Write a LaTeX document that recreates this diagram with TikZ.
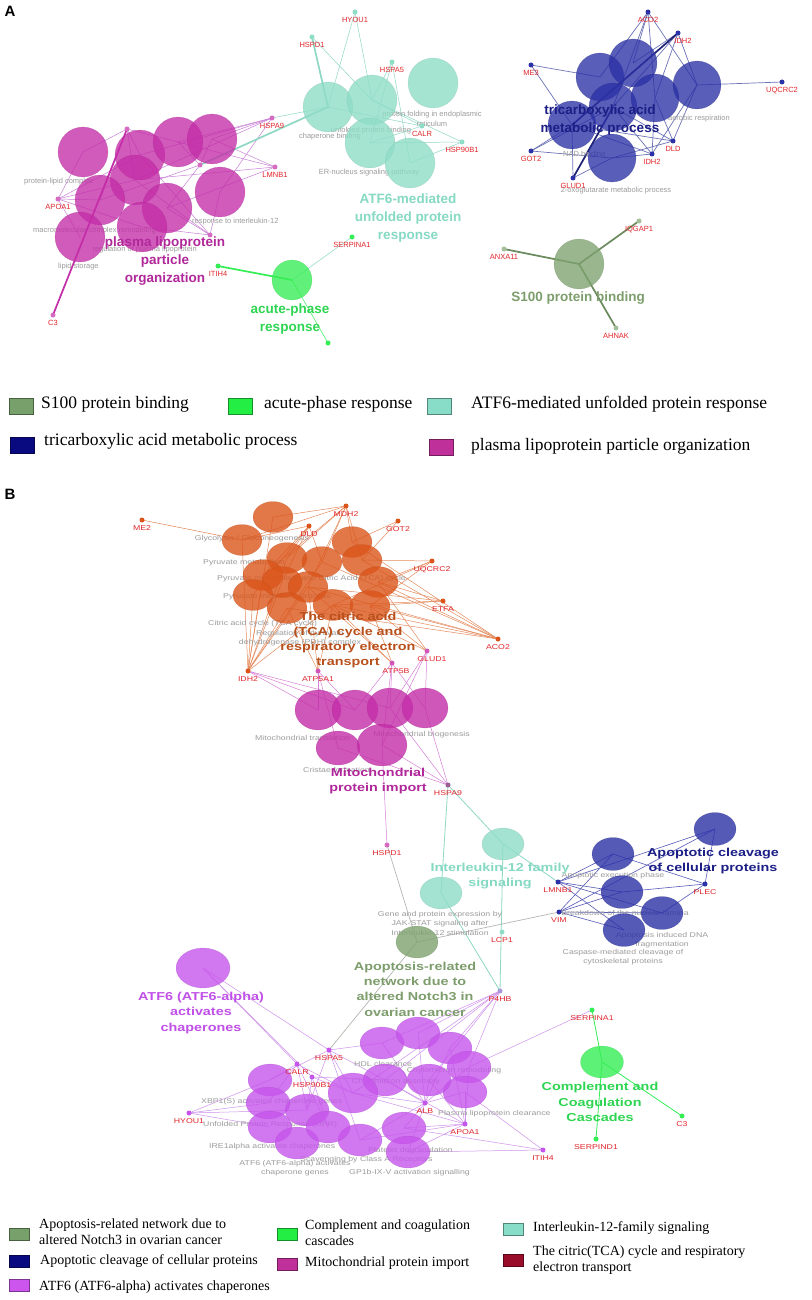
\documentclass[tikz,border=0pt]{standalone}
\usepackage{fontspec}
\setmainfont{Liberation Sans}
\newfontfamily\legfont{Liberation Serif}
\newfontfamily\widesans[FakeStretch=1.25]{Liberation Sans}
\usetikzlibrary{shapes.geometric,positioning}
\pgfdeclarelayer{back}
\pgfdeclarelayer{edges}
\pgfsetlayers{back,edges,main}

\definecolor{lipo}{HTML}{C42DA8}
\definecolor{atf}{HTML}{8EDDC6}
\definecolor{acute}{HTML}{35EE55}
\definecolor{tcaA}{HTML}{2B31A6}
\definecolor{s100}{HTML}{7EA26F}
\definecolor{tcaB}{HTML}{DB551A}
\definecolor{violet}{HTML}{C655EC}
\definecolor{genered}{HTML}{E0262B}
\definecolor{greytext}{HTML}{9C9C9C}
\definecolor{lipoLab}{HTML}{B0289A}
\definecolor{atfLab}{HTML}{86D9C2}
\definecolor{acuteLab}{HTML}{2ED552}
\definecolor{navyLab}{HTML}{1B1F86}
\definecolor{oliveLab}{HTML}{7D9D6C}
\definecolor{tcaLab}{HTML}{B8501C}
\definecolor{violetLab}{HTML}{C050E8}
\definecolor{eLipo}{HTML}{C880D6}
\definecolor{eAtf}{HTML}{8ED8C4}
\definecolor{eNavy}{HTML}{6C72B6}
\definecolor{eOrange}{HTML}{E58A5C}
\definecolor{eMito}{HTML}{D67FD6}
\definecolor{eViolet}{HTML}{CF92EC}
\definecolor{eGrey}{HTML}{B3B8B0}
\definecolor{legS100}{HTML}{77A06A}
\definecolor{legAcute}{HTML}{22EE44}
\definecolor{legAtf}{HTML}{88DDC8}
\definecolor{legNavy}{HTML}{0A0A80}
\definecolor{legLipo}{HTML}{C0309A}
\definecolor{legViolet}{HTML}{CC55EE}
\definecolor{legRed}{HTML}{990C2A}

\tikzset{
  bubble/.style={circle,inner sep=0pt,minimum size=#1,fill opacity=0.78,draw opacity=0.3,line width=0.4pt},
  oval/.style 2 args={ellipse,inner sep=0pt,minimum width=#1,minimum height=#2,fill opacity=0.8,draw opacity=0.3,line width=0.4pt},
  lipoA/.style={bubble=50pt,fill=lipo,draw=lipo!80!black},
  atfA/.style={bubble=50pt,fill=atf,draw=atf!80!black},
  acuteA/.style={bubble=40pt,fill=acute,draw=acute!80!black},
  tcaAb/.style={bubble=48pt,fill=tcaA,draw=tcaA!70!black},
  s100A/.style={bubble=50pt,fill=s100,draw=s100!80!black},
  tcaBb/.style={oval={40pt}{31pt},fill=tcaB,draw=tcaB!80!black},
  mitoB/.style={oval={46pt}{40pt},fill=lipo,draw=lipo!80!black},
  ilB/.style={oval={42pt}{32pt},fill=atf,draw=atf!80!black},
  apB/.style={oval={42pt}{32pt},fill=s100,draw=s100!80!black},
  cleavB/.style={oval={42pt}{33pt},fill=tcaA,draw=tcaA!70!black},
  chapB/.style={oval={44pt}{32pt},fill=violet,draw=violet!80!black},
  compB/.style={oval={43pt}{32pt},fill=acute,draw=acute!80!black},
  gene/.style={circle,inner sep=0pt,minimum size=5pt,fill=#1},
  glabA/.style={text=genered,font=\fontsize{7.5}{8}\selectfont,inner sep=0.5pt},
  glabB/.style={text=genered,font=\widesans\fontsize{7}{8}\selectfont,inner sep=0.5pt},
  termA/.style={text=greytext,font=\fontsize{7.5}{9.5}\selectfont,inner sep=0pt,align=center},
  termB/.style={text=greytext,font=\widesans\fontsize{7}{9.5}\selectfont,inner sep=0pt,align=center},
  clabA/.style={text=#1,font=\bfseries\fontsize{13.5}{18}\selectfont,align=center,inner sep=0pt},
  clabB/.style={text=#1,font=\widesans\bfseries\fontsize{11.5}{15.3}\selectfont,align=center,inner sep=0pt},
  link/.style={draw=#1,line width=0.5pt},
  thicklink/.style={draw=#1,line width=1.7pt},
  panel/.style={font=\bfseries\fontsize{15}{15}\selectfont,inner sep=0pt},
  swatchA/.style={fill=#1,draw=#1!60!black,line width=0.4pt,inner sep=0pt,minimum width=24pt,minimum height=16pt},
  swatchB/.style={fill=#1,draw=#1!60!black,line width=0.4pt,inner sep=0pt,minimum width=20pt,minimum height=12pt},
  legA/.style={font=\legfont\fontsize{17.5}{19}\selectfont,anchor=mid west,inner sep=0pt},
  legB/.style={font=\legfont\fontsize{14}{16}\selectfont,anchor=west,inner sep=0pt,align=left}
}

\begin{document}
\begin{tikzpicture}[x=1pt,y=-1pt]
\useasboundingbox (0,0) rectangle (811,1300);
\begin{pgfonlayer}{back}
\fill[white] (0,0) rectangle (811,1300);
\end{pgfonlayer}

\node[panel] (pA) at (10,11) {A};
\node[panel] (pB) at (10,494) {B};

\foreach \n/\x/\y in {1/83/152,2/140/155,3/178/142,4/212/139,5/135/180,6/100/200,7/167/208,8/142/227,9/220/192,10/80/237}
  \node[lipoA] (pa\n) at (\x,\y) {};
\foreach \n/\x/\y in {1/328/107,2/372/100,3/433/83,4/370/143,5/410/163}
  \node[atfA] (ta\n) at (\x,\y) {};
\node[acuteA] (acA) at (292,280) {};
\foreach \n/\x/\y in {1/600/77,2/633/63,3/613/107,4/655/98,5/697/85,6/572/125,7/612/158}
  \node[tcaAb] (nb\n) at (\x,\y) {};
\node[s100A] (sA) at (579,264) {};

\foreach \g/\x/\y/\c in {HYOU1/355/12/atf,HSPD1/312/37/atf,HSPA5/392/62/atf,CALR/422/126/atf,HSP90B1/462/142/atf,
    HSPA9/272/118/lipo!70,LMNB1/275/167/lipo!70,APOA1/58/199/lipo!70,C3/53/315/lipo!70,
    ITIH4/218/266/acute,SERPINA1/352/237/acute,
    ACO2/648/12/tcaA,ME3/531/65/tcaA,UQCRC2/782/82/tcaA,GOT2/531/151/tcaA,DLD/673/141/tcaA,IDH2/652/154/tcaA,GLUD1/573/178/tcaA,
    IQGAP1/639/221/s100!70,ANXA11/504/249/s100!70,AHNAK/616/328/s100!70}
  {\node[gene=\c] (a\g) at (\x,\y) {};
   \node[glabA,below=2pt of a\g] (la\g) {\g};}
\node[gene=tcaA] (aIDH2t) at (678,33) {};
\node[glabA,below=2pt of aIDH2t,xshift=5pt] (laIDH2t) {IDH2};
\node[gene=lipo!70] (aX1) at (127,129) {};
\node[gene=lipo!70] (aX2) at (210,235) {};
\node[gene=lipo!70] (aX3) at (200,165) {};
\node[gene=acute] (aX4) at (328,343) {};

\begin{pgfonlayer}{edges}
\foreach \s/\t in {aX1/pa1,aX1/pa2,aX1/pa3,aX1/pa5,aX1/pa6,aAPOA1/pa1,aAPOA1/pa2,aAPOA1/pa5,aAPOA1/pa6,aAPOA1/pa10,aAPOA1/pa8,
    aHSPA9/pa2,aHSPA9/pa3,aHSPA9/pa4,aHSPA9/pa5,aHSPA9/pa9,aLMNB1/pa3,aLMNB1/pa4,aLMNB1/pa5,aLMNB1/pa7,
    aX2/pa5,aX2/pa7,aX2/pa8,aX2/pa9,aX2/pa2,aX3/pa3,aX3/pa4,aX3/pa6,aX3/pa7}
  \draw[link=eLipo] (\s.center) -- (\t.center);
\draw[thicklink=lipo] (aC3.center) -- (aX1.center);
\foreach \s/\t in {aHSPA9/ta1,aHYOU1/ta1,aHYOU1/ta2,aHSPD1/ta2,aHSPA5/ta2,aHSPA5/ta4,aHSPA5/ta5,aCALR/ta4,aCALR/ta2,aCALR/ta1,
    aHSP90B1/ta2,aHSP90B1/ta4,aHSP90B1/ta5,aSERPINA1/acA}
  \draw[link=eAtf] (\s.center) -- (\t.center);
\draw[thicklink=eAtf] (aHSPD1.center) -- (ta1.center);
\draw[thicklink=eAtf] (aX3.center) -- (ta1.center);
\draw[thicklink=acute] (aITIH4.center) -- (acA.center);
\draw[link=acute] (aX4.center) -- (acA.center);
\foreach \s/\t in {aACO2/nb1,aACO2/nb2,aACO2/nb3,aACO2/nb4,aACO2/nb5,aIDH2t/nb2,aIDH2t/nb4,aIDH2t/nb5,aIDH2t/nb3,
    aME3/nb1,aME3/nb6,aUQCRC2/nb5,aGOT2/nb6,aGOT2/nb7,aGOT2/nb3,aDLD/nb3,aDLD/nb4,aDLD/nb5,aDLD/nb6,aDLD/nb7,
    aIDH2/nb3,aIDH2/nb4,aIDH2/nb5,aIDH2/nb6,aIDH2/nb7,aGLUD1/nb7,aGLUD1/nb6}
  \draw[link=eNavy,line width=0.7pt] (\s.center) -- (\t.center);
\draw[thicklink=tcaA!70!black] (aIDH2t.center) -- (nb6.center);
\draw[thicklink=tcaA!70!black] (aGLUD1.center) -- (nb3.center);
\foreach \s in {aIQGAP1,aANXA11,aAHNAK}
  \draw[thicklink=s100!85!black] (\s.center) -- (sA.center);

\node[termA,anchor=west] (gA1) at (24,182) {protein-lipid complex};
\node[termA,anchor=west] (gA2) at (33,231) {macromolecular complex remodeling};
\node[termA,anchor=west] (gA3) at (58,267) {lipid storage};
\node[termA,anchor=west] (gA4) at (192,222) {response to interleukin-12};
\node[termA,anchor=east] (gA5) at (197,250) {regulation of plasma lipoprotein};
\node[termA] (gA6) at (432,119) {protein folding in endoplasmic\\reticulum};
\node[termA] (gA7) at (371,131) {unfolded protein binding};
\node[termA] (gA8) at (330,137) {chaperone binding};
\node[termA] (gA9) at (369,173) {ER-nucleus signaling pathway};
\node[termA,anchor=east] (gA10) at (730,119) {aerobic respiration};
\node[termA,anchor=west] (gA11) at (563,155) {NAD binding};
\node[termA] (gA12) at (616,191) {2-oxoglutarate metabolic process};
\end{pgfonlayer}

\node[clabA=lipoLab] (cA1) at (165,261) {plasma lipoprotein\\particle\\organization};
\node[clabA=atfLab] (cA2) at (408,218) {ATF6-mediated\\unfolded protein\\response};
\node[clabA=acuteLab] (cA3) at (290,319) {acute-phase\\response};
\node[clabA=navyLab] (cA4) at (600,120) {tricarboxylic acid\\metabolic process};
\node[clabA=oliveLab] (cA5) at (578,298) {S100 protein binding};

\node[swatchA=legS100] (kA1) at (21.5,406) {};
\node[legA] (tA1) at (41,406) {S100 protein binding};
\node[swatchA=legAcute] (kA2) at (240,406) {};
\node[legA] (tA2) at (264,406) {acute-phase response};
\node[swatchA=legAtf] (kA3) at (439,406) {};
\node[legA] (tA3) at (471,406) {ATF6-mediated unfolded protein response};
\node[swatchA=legNavy] (kA4) at (22,445) {};
\node[legA] (tA4) at (44,443) {tricarboxylic acid metabolic process};
\node[swatchA=legLipo] (kA5) at (441.5,447) {};
\node[legA] (tA5) at (471,448) {plasma lipoprotein particle organization};

\foreach \n/\x/\y in {1/273/517,2/242/540,3/352/542,4/287/558,5/322/562,6/362/560,7/263/575,8/282/582,9/308/587,10/378/582,11/253/595,12/287/608,13/333/605,14/370/606}
  \node[tcaBb] (oc\n) at (\x,\y) {};
\foreach \n/\x/\y in {1/318/710,2/355/710,3/390/708,4/425/708}
  \node[mitoB] (mp\n) at (\x,\y) {};
\node[mitoB,minimum width=44pt,minimum height=34pt] (mp5) at (338,748) {};
\node[mitoB,minimum width=50pt,minimum height=42pt] (mp6) at (382,745) {};
\node[ilB] (il1) at (503,844) {};
\node[ilB] (il2) at (441,893) {};
\node[apB] (ap) at (417,942) {};
\foreach \n/\x/\y in {1/613/854,2/715/829,3/622/892,4/662/913,5/624/930}
  \node[cleavB] (nc\n) at (\x,\y) {};
\node[chapB,minimum width=54pt,minimum height=40pt] (atf) at (203,968) {};
\foreach \n/\x/\y in {1/382/1043,2/418/1033,3/450/1048,4/469/1067,5/465/1092,6/429/1080,7/385/1080,9/307/1110,10/270/1080,11/268/1103,12/270/1127,13/297/1143,14/360/1140,15/404/1128,16/408/1152,17/328/1127}
  \node[chapB] (vc\n) at (\x,\y) {};
\node[chapB,minimum width=50pt,minimum height=40pt] (vc8) at (353,1093) {};
\node[compB] (cc) at (602,1062) {};

\foreach \g/\x/\y/\c in {ME2/142/520/tcaB,MDH2/346/506/tcaB,DLD/309/526/tcaB,GOT2/398/521/tcaB,UQCRC2/432/561/tcaB,ETFA/443/601/tcaB,
    ACO2/498/639/tcaB,IDH2/248/671/tcaB,ATP5A1/318/671/lipo!80,
    HSPA9/448/785/lipo!40!gray,HSPD1/387/845/lipo!70,LMNB1/558/882/tcaA,VIM/559/912/tcaA,PLEC/705/884/tcaA,
    LCP1/502/932/atf,P4HB/500/991/atf!50!violet,
    HSPA5/329/1050/violet,CALR/297/1064/violet,HSP90B1/312/1077/violet,HYOU1/189/1113/violet,ALB/425/1103/violet,APOA1/465/1124/violet,ITIH4/543/1150/violet,
    SERPINA1/592/1010/acute,C3/682/1116/acute,SERPIND1/596/1139/acute}
  {\node[gene=\c] (b\g) at (\x,\y) {};
   \node[glabB,below=2pt of b\g] (lb\g) {\g};}
\node[gene=lipo!80] (bGLUD1) at (427,651) {};
\node[glabB,below=2pt of bGLUD1,xshift=5pt] (lbGLUD1) {GLUD1};
\node[gene=lipo!80] (bATP5B) at (392,663) {};
\node[glabB,below=2pt of bATP5B,xshift=4pt] (lbATP5B) {ATP5B};

\begin{pgfonlayer}{edges}
\foreach \s/\t in {bME2/oc2,bMDH2/oc1,bMDH2/oc2,bMDH2/oc3,bMDH2/oc4,bMDH2/oc5,bMDH2/oc6,bMDH2/oc7,bMDH2/oc9,
    bDLD/oc2,bDLD/oc4,bDLD/oc5,bDLD/oc7,bDLD/oc8,bDLD/oc11,bGOT2/oc3,bGOT2/oc6,
    bUQCRC2/oc6,bUQCRC2/oc10,bUQCRC2/oc13,bUQCRC2/oc14,bETFA/oc10,bETFA/oc13,bETFA/oc14,bETFA/oc9,
    bACO2/oc3,bACO2/oc5,bACO2/oc6,bACO2/oc9,bACO2/oc10,bACO2/oc13,bACO2/oc14,bACO2/oc12,
    bIDH2/oc1,bIDH2/oc2,bIDH2/oc4,bIDH2/oc7,bIDH2/oc8,bIDH2/oc9,bIDH2/oc11,bIDH2/oc12,bIDH2/oc13,bIDH2/oc5,
    bGLUD1/oc10,bGLUD1/oc14,bGLUD1/oc13,bATP5B/oc13,bATP5B/oc14,bATP5B/oc9,bATP5A1/oc9,bATP5A1/oc12,bATP5A1/oc13}
  \draw[link=eOrange] (\s.center) -- (\t.center);
\foreach \s/\t in {bIDH2/mp1,bIDH2/mp2,bIDH2/mp3,bATP5A1/mp1,bATP5A1/mp2,bATP5A1/mp5,bATP5B/mp2,bATP5B/mp3,bATP5B/mp4,bATP5B/mp6,
    bGLUD1/mp3,bGLUD1/mp4,bGLUD1/mp6,bHSPA9/mp3,bHSPA9/mp4,bHSPA9/mp5,bHSPA9/mp6,bHSPD1/mp6}
  \draw[link=eMito] (\s.center) -- (\t.center);
\foreach \s/\t in {bHSPA9/il1,bHSPA9/il2,bP4HB/il1,bP4HB/il2,bLMNB1/il1}
  \draw[link=eAtf,line width=0.8pt] (\s.center) -- (\t.center);
\foreach \s/\t in {bHSPD1/ap,bVIM/ap,bHSPA5/ap}
  \draw[link=eGrey,line width=0.7pt] (\s.center) -- (\t.center);
\foreach \s/\t in {bLMNB1/nc1,bLMNB1/nc2,bLMNB1/nc3,bLMNB1/nc4,bLMNB1/nc5,bVIM/nc1,bVIM/nc2,bVIM/nc3,bVIM/nc4,bVIM/nc5,
    bPLEC/nc1,bPLEC/nc2,bPLEC/nc3,bPLEC/nc4}
  \draw[link=tcaA!80,line width=0.6pt] (\s.center) -- (\t.center);
\foreach \s/\t in {atf/bHSPA5,atf/bCALR,atf/bHSP90B1,bHYOU1/vc10,bHYOU1/vc11,bHYOU1/vc12,bHYOU1/vc9,
    bHSPA5/vc1,bHSPA5/vc8,bHSPA5/vc9,bHSPA5/vc10,bHSPA5/vc7,bHSPA5/vc14,bCALR/vc8,bCALR/vc9,bCALR/vc10,bCALR/vc11,bCALR/vc17,
    bHSP90B1/vc8,bHSP90B1/vc9,bHSP90B1/vc17,bHSP90B1/vc7,bP4HB/vc1,bP4HB/vc2,bP4HB/vc3,bP4HB/vc4,bP4HB/vc6,bP4HB/vc7,bP4HB/vc8,
    bALB/vc1,bALB/vc2,bALB/vc3,bALB/vc4,bALB/vc5,bALB/vc6,bALB/vc7,bALB/vc8,bALB/vc14,bALB/vc15,bALB/vc16,
    bAPOA1/vc3,bAPOA1/vc4,bAPOA1/vc5,bAPOA1/vc6,bAPOA1/vc7,bAPOA1/vc8,bAPOA1/vc15,bAPOA1/vc16,bAPOA1/vc14,
    bITIH4/vc15,bITIH4/vc16,bITIH4/vc5,bSERPINA1/vc4}
  \draw[link=eViolet] (\s.center) -- (\t.center);
\foreach \s in {bSERPINA1,bC3,bSERPIND1}
  \draw[link=acute,line width=0.8pt] (\s.center) -- (cc.center);

\node[termB] (gB1) at (252,539) {Glycolysis / Gluconeogenesis};
\node[termB,anchor=west] (gB2) at (203,563) {Pyruvate metabolism};
\node[termB,anchor=west] (gB3) at (217,579) {Pyruvate metabolism and Citric Acid (TCA) cycle};
\node[termB,anchor=west] (gB4) at (223,597) {Pyruvate metabolic process};
\node[termB,anchor=west] (gB5) at (208,624) {Citric acid cycle (TCA cycle)};
\node[termB] (gB6) at (300,638) {Regulation of pyruvate\\dehydrogenase (PDH) complex};
\node[termB,anchor=west] (gB7) at (255,738) {Mitochondrial translation};
\node[termB,anchor=west] (gB8) at (303,770) {Cristae formation};
\node[termB,anchor=east] (gB9) at (470,735) {Mitochondrial biogenesis};
\node[termB] (gB10) at (440,923) {Gene and protein expression by\\JAK-STAT signaling after\\Interleukin-12 stimulation};
\node[termB] (gB11) at (613,876) {Apoptotic execution phase};
\node[termB] (gB12) at (625,913) {Breakdown of the nuclear lamina};
\node[termB] (gB13) at (662,940) {Apoptosis induced DNA\\fragmentation};
\node[termB] (gB14) at (623,957) {Caspase-mediated cleavage of\\cytoskeletal proteins};
\node[termB,anchor=west] (gB15) at (201,1102) {XBP1(S) activates chaperone genes};
\node[termB,anchor=west] (gB16) at (203,1125) {Unfolded Protein Response (UPR)};
\node[termB,anchor=west] (gB17) at (209,1147) {IRE1alpha activates chaperones};
\node[termB] (gB18) at (295,1168) {ATF6 (ATF6-alpha) activates\\chaperone genes};
\node[termB,anchor=west] (gB19) at (300,1160) {Scavenging by Class A Receptors};
\node[termB,anchor=west] (gB20) at (349,1173) {GP1b-IX-V activation signalling};
\node[termB,anchor=west] (gB21) at (368,1151) {Platelet degranulation};
\node[termB,anchor=west] (gB22) at (354,1064) {HDL clearance};
\node[termB] (gB23) at (454,1071) {Chylomicron remodeling};
\node[termB,anchor=west] (gB24) at (438,1114) {Plasma lipoprotein clearance};
\node[termB] (gB25) at (396,1082) {Chylomicron assembly};
\end{pgfonlayer}

\node[clabB=tcaLab] (cB1) at (348,640) {The citric acid\\(TCA) cycle and\\respiratory electron\\transport};
\node[clabB=lipoLab] (cB2) at (378,781) {Mitochondrial\\protein import};
\node[clabB=atfLab] (cB3) at (500,876) {Interleukin-12 family\\signaling};
\node[clabB=navyLab] (cB4) at (713,861) {Apoptotic cleavage\\of cellular proteins};
\node[clabB=oliveLab] (cB5) at (415,989) {Apoptosis-related\\network due to\\altered Notch3 in\\ovarian cancer};
\node[clabB=violetLab] (cB6) at (201,1013) {ATF6 (ATF6-alpha)\\activates\\chaperones};
\node[clabB=acuteLab] (cB7) at (600,1102) {Complement and\\Coagulation\\Cascades};

\node[swatchB=legS100] (kB1) at (19.5,1234.5) {};
\node[legB] (tB1) at (39,1232) {Apoptosis-related network due to\\altered Notch3 in ovarian cancer};
\node[swatchB=legNavy] (kB2) at (19.5,1261.5) {};
\node[legB] (tB2) at (40,1261) {Apoptotic cleavage of cellular proteins};
\node[swatchB=legViolet] (kB3) at (19.5,1285) {};
\node[legB] (tB3) at (39,1287) {ATF6 (ATF6-alpha) activates chaperones};
\node[swatchB=legAcute] (kB4) at (287.5,1234) {};
\node[legB] (tB4) at (305,1233) {Complement and coagulation\\cascades};
\node[swatchB=legLipo] (kB5) at (287.5,1264.5) {};
\node[legB] (tB5) at (305,1263) {Mitochondrial protein import};
\node[swatchB=legAtf] (kB6) at (513.5,1229) {};
\node[legB] (tB6) at (533,1228) {Interleukin-12-family signaling};
\node[swatchB=legRed] (kB7) at (513.5,1260.5) {};
\node[legB] (tB7) at (533,1260) {The citric(TCA) cycle and respiratory\\electron transport};
\end{tikzpicture}
\end{document}
